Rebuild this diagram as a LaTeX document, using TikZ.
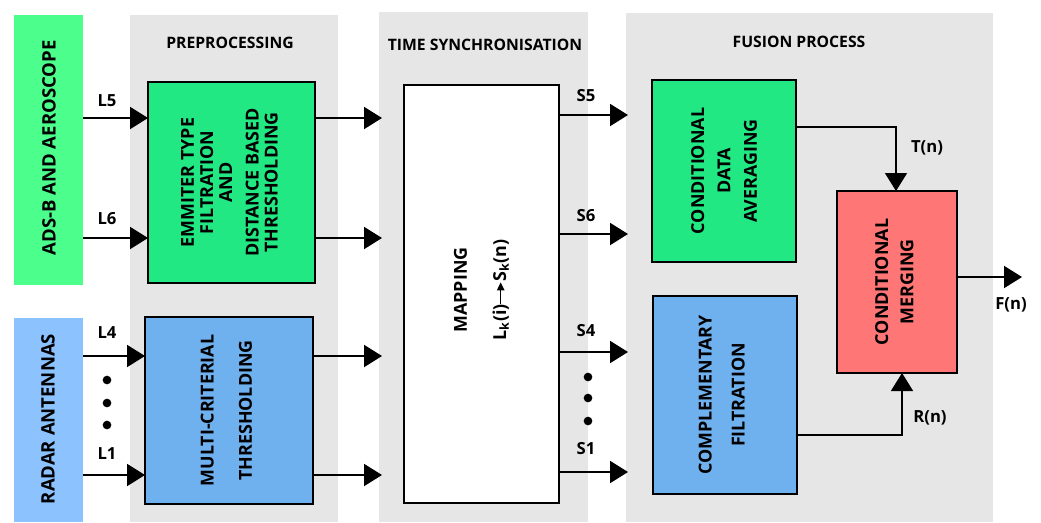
\documentclass[tikz,border=0pt]{standalone}
\usepackage{fontspec}
\setmainfont{Open Sans}
\usetikzlibrary{positioning, arrows.meta}

\definecolor{adsgreen}{HTML}{4CFF8C}
\definecolor{boxgreen}{HTML}{22E883}
\definecolor{radarblue}{HTML}{8CC3FF}
\definecolor{boxblue}{HTML}{6FB0EE}
\definecolor{mergered}{HTML}{FF7676}
\definecolor{panelgray}{HTML}{E6E6E6}

\newcommand{\maparrow}{\tikz[baseline=-0.55ex]\draw[line width=1pt,-{Triangle[length=6pt,width=5.5pt]}] (0pt,0pt) -- (16pt,0pt);}

\begin{document}
\begin{tikzpicture}[
    x=0.75pt, y=-0.75pt,
    wh/.style 2 args={minimum width=#1*0.75pt, minimum height=#2*0.75pt},
    panel/.style={fill=panelgray, inner sep=0pt, outer sep=0pt, anchor=north west},
    source/.style={panel},
    block/.style={draw, line width=1.5pt, inner sep=0pt, outer sep=0pt, anchor=north west},
    boxtext/.style={rotate=90, align=center, font=\bfseries\fontsize{13.4}{14.3}\selectfont},
    srctext/.style={rotate=90, font=\bfseries\fontsize{13.9}{15}\selectfont},
    title/.style={font=\bfseries\fontsize{11.8}{14}\selectfont},
    sig/.style={font=\bfseries\fontsize{12.5}{15}\selectfont},
    flow/.style={line width=1.5pt, -{Triangle[length=13.5pt, width=16.5pt]}},
    link/.style={line width=1.2pt, -{Triangle[length=13.5pt, width=16.5pt]}},
    dot/.style={circle, fill, inner sep=0pt, minimum size=6.5pt}
]
\useasboundingbox (0,0) rectangle (1041,522);

% Background panels
\node[panel, wh={208}{507}] (prepanel) at (130,15) {};
\node[panel, wh={209}{510}] (syncpanel) at (379,12) {};
\node[panel, wh={367}{509}] (fuspanel) at (626,13) {};

\node[title] (pretitle) at (230,43) {PREPROCESSING};
\node[title] (synctitle) at (485,45) {TIME SYNCHRONISATION};
\node[title] (fustitle) at (799,42) {FUSION PROCESS};

% Sources
\node[source, fill=adsgreen, wh={69}{270}] (ads) at (14,15) {};
\node[source, fill=radarblue, wh={69}{204}] (radar) at (14,318) {};
\node[srctext] (adstext) at (49,148) {ADS-B AND AEROSCOPE};
\node[srctext] (radartext) at (48,419) {RADAR ANTENNAS};

% Preprocessing blocks
\node[block, fill=boxgreen, wh={167}{201}] (filt) at (148,82) {};
\node[boxtext] (filttext) at ([xshift=-1.5pt]filt.center) {EMMITER TYPE\\FILTRATION\\AND\\[5.5pt]DISTANCE BASED\\THRESHOLDING};
\node[block, fill=boxblue, wh={168}{187}] (multi) at (145,317) {};
\node[boxtext] (multitext) at ([xshift=-2pt]multi.center) {MULTI-CRITERIAL\\[14.5pt]THRESHOLDING};

% Mapping block
\node[block, fill=white, wh={155}{418}] (map) at (404,85) {};
\node[boxtext] (maptext) at ([yshift=3pt]map.center) {MAPPING\\[15pt]L\textsubscript{k}(i)\maparrow S\textsubscript{k}(n)};

% Fusion blocks
\node[block, fill=boxgreen, wh={144}{182}] (avg) at (652,80) {};
\node[boxtext] (avgtext) at (avg.center) {CONDITIONAL\\[5.5pt]DATA\\[5.5pt]AVERAGING};
\node[block, fill=boxblue, wh={144}{198}] (comp) at (653,296) {};
\node[boxtext] (comptext) at ([xshift=-2.5pt]comp.center) {COMPLEMENTARY\\[10.5pt]FILTRATION};
\node[block, fill=mergered, wh={120}{182}] (merge) at (837,191) {};
\node[boxtext] (mergetext) at ([xshift=-2pt]merge.center) {CONDITIONAL\\[4.5pt]MERGING};

% Row coordinates
\coordinate (in5) at (382,118);
\coordinate (in6) at (382,238);
\coordinate (in4) at (382,356);
\coordinate (in1) at (382,475);
\coordinate (out5) at (628,115);
\coordinate (out6) at (628,234);
\coordinate (out4) at (628,352);
\coordinate (out1) at (628,472);
\coordinate (fout) at (1022,277);

% Inputs
\draw[flow] (ads.east |- in5) -- (filt.west |- in5);
\draw[flow] (ads.east |- in6) -- (filt.west |- in6);
\draw[flow] (radar.east |- in4) -- (multi.west |- in4);
\draw[flow] (radar.east |- in1) -- (multi.west |- in1);
\node[sig] (l5) at (107,101) {L5};
\node[sig] (l6) at (107,219) {L6};
\node[sig] (l4) at (107,333) {L4};
\node[sig] (l1) at (107,454) {L1};
\node[dot] (ldot1) at (107,380) {};
\node[dot] (ldot2) at (107,403) {};
\node[dot] (ldot3) at (107,425) {};

% Preprocessing outputs
\draw[flow] (filt.east |- in5) -- (in5);
\draw[flow] (filt.east |- in6) -- (in6);
\draw[flow] (multi.east |- in4) -- (in4);
\draw[flow] (multi.east |- in1) -- (in1);

% Mapping outputs
\draw[flow] (map.east |- out5) -- (out5);
\draw[flow] (map.east |- out6) -- (out6);
\draw[flow] (map.east |- out4) -- (out4);
\draw[flow] (map.east |- out1) -- (out1);
\node[sig] (s5) at (586,96) {S5};
\node[sig] (s6) at (586,216) {S6};
\node[sig] (s4) at (586,331) {S4};
\node[sig] (s1) at (586,449) {S1};
\node[dot] (sdot1) at (588,377) {};
\node[dot] (sdot2) at (588,398) {};
\node[dot] (sdot3) at (588,421) {};

% Fusion connections
\draw[link] ([yshift=33pt]avg.east) -| ([xshift=-0.75pt]merge.north);
\draw[link] ([yshift=-30pt]comp.east) -| ([xshift=3.75pt]merge.south);
\draw[flow] (merge.east |- fout) -- (fout);
\node[sig] (tn) at (927,148) {T(n)};
\node[sig] (rn) at (930,418) {R(n)};
\node[sig] (fn) at (1011,305) {F(n)};

\end{tikzpicture}
\end{document}
